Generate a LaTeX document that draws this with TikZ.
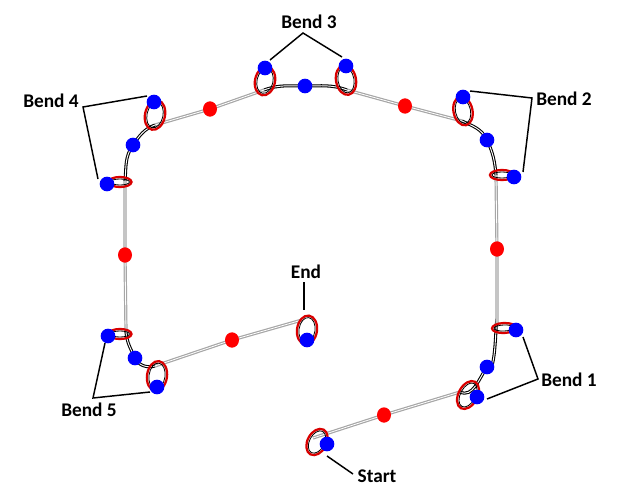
\documentclass[tikz,border=0pt]{standalone}
\usepackage{fontspec}
\setmainfont{Carlito}
\usetikzlibrary{shapes.geometric,backgrounds}
\tikzset{
  x=0.75pt,y=-0.75pt,
  bluedot/.style={circle,fill=blue,draw=none,inner sep=0pt,minimum size=11pt},
  reddot/.style={ellipse,fill=red,draw=none,inner sep=0pt,minimum width=10.5pt,minimum height=11.5pt},
  redring/.style={ellipse,draw=red!85!black,line width=1.7pt,inner sep=0pt},
  straightseg/.style={draw=black!35,line width=2.4pt,line cap=butt,postaction={draw=white,line width=0.6pt}},
  curveseg/.style={draw=black,line width=2.3pt,postaction={draw=white,line width=0.7pt}},
  leader/.style={draw=black,line width=1.1pt},
  lab/.style={font=\fontsize{14.5pt}{16pt}\selectfont\bfseries,inner sep=0pt,text=black}
}
\newcommand{\bendloop}[6]{% name, x, y, width, height, rotation
  \node[redring,minimum width=#4*0.75pt,minimum height=#5*0.75pt,rotate=#6] (#1) at (#2,#3) {};
  \node[ellipse,draw=black,line width=0.6pt,inner sep=0pt,minimum width=#4*0.75pt-3pt,minimum height=#5*0.75pt-3pt,rotate=#6] (#1in) at (#2,#3) {};
}
\begin{document}
\begin{tikzpicture}
\useasboundingbox (0,0) rectangle (629,492);
% junctions
\coordinate (j0) at (313,438);
\coordinate (j1) at (460,392);
\coordinate (j2) at (497,325);
\coordinate (j3) at (496,175);
\coordinate (j4) at (462,121);
\coordinate (j5) at (347,90);
\coordinate (j6) at (264,90);
\coordinate (j7) at (155,125);
\coordinate (j8) at (125,181);
\coordinate (j9) at (126,332);
\coordinate (j10) at (155,366);
\coordinate (j11) at (302,320);
% rings
\bendloop{ls}{317}{442}{19}{28}{-28}
\bendloop{l1a}{468}{395}{19}{30}{-28}
\bendloop{l1b}{504}{328}{10}{24}{92}
\bendloop{l2b}{502}{175}{10}{24}{-90}
\bendloop{l2a}{463}{111}{19}{29}{12}
\bendloop{l3r}{346}{80}{20}{30}{10}
\bendloop{l3l}{265}{81}{20}{29}{-12}
\bendloop{l4a}{155}{115}{20}{30}{-12}
\bendloop{l4b}{120}{182}{10}{23}{90}
\bendloop{l5a}{120}{334}{10}{23}{90}
\bendloop{l5b}{157}{376}{20}{30}{-8}
\bendloop{le}{307}{330}{20}{29}{-8}
% red midpoints
\node[reddot] (r1) at (384,415) {};
\node[reddot] (r2) at (497,249) {};
\node[reddot] (r3) at (405,106) {};
\node[reddot] (r4) at (210,109) {};
\node[reddot] (r5) at (125,255) {};
\node[reddot] (r6) at (232,340) {};
% blue dots
\node[bluedot] (bs) at (327,444) {};
\node[bluedot] (b1a) at (477,397) {};
\node[bluedot] (m1) at (487,367) {};
\node[bluedot] (b1b) at (516,330) {};
\node[bluedot] (b2b) at (514,177) {};
\node[bluedot] (m2) at (487,140) {};
\node[bluedot] (b2a) at (463,97) {};
\node[bluedot] (b3r) at (346,66) {};
\node[bluedot] (m3) at (305,86) {};
\node[bluedot] (b3l) at (265,68) {};
\node[bluedot] (b4a) at (154,102) {};
\node[bluedot] (m4) at (133,145) {};
\node[bluedot] (b4b) at (107,184) {};
\node[bluedot] (b5a) at (108,336) {};
\node[bluedot] (m5) at (135,358) {};
\node[bluedot] (b5b) at (157,387) {};
\node[bluedot] (be) at (307,340) {};
% labels
\node[lab] (tstart) at (377,476) {Start};
\node[lab] (t1) at (569,380) {Bend 1};
\node[lab] (t2) at (564,99) {Bend 2};
\node[lab] (t3) at (309,22) {Bend 3};
\node[lab] (t4) at (51,101) {Bend 4};
\node[lab] (t5) at (89,410) {Bend 5};
\node[lab] (tend) at (306,272) {End};
% leader elbows and free ends
\coordinate (e1) at (538,379);
\coordinate (e2) at (532,98);
\coordinate (e3) at (303,33);
\coordinate (e4) at (83,107);
\coordinate (e5) at (93,398);
\coordinate (as) at (327,456);
\coordinate (asb) at (353,474);
\coordinate (a1b) at (523,337);
\coordinate (a1a) at (487,399);
\coordinate (a2a) at (470,91);
\coordinate (a2b) at (523,172);
\coordinate (a3l) at (270,60);
\coordinate (a3r) at (342,57);
\coordinate (a4a) at (147,96);
\coordinate (a4b) at (98,179);
\coordinate (a5a) at (105,343);
\coordinate (a5b) at (150,392);
\coordinate (aet) at (304,282);
\coordinate (aeb) at (304,310);
\begin{pgfonlayer}{background}
  \draw[straightseg] (j0) -- (r1.center) -- (j1);
  \draw[curveseg] (j1) to[out=-25,in=-125] (m1.center) to[out=-55,in=95] (j2);
  \draw[straightseg] (j2) -- (r2.center) -- (j3);
  \draw[curveseg] (j3) to[out=95,in=-65] (m2.center) to[out=115,in=-25] (j4);
  \draw[straightseg] (j4) -- (r3.center) -- (j5);
  \draw[curveseg] (j5) to[out=160,in=0] (m3.center) to[out=180,in=20] (j6);
  \draw[straightseg] (j6) -- (r4.center) -- (j7);
  \draw[curveseg] (j7) to[out=200,in=55] (m4.center) to[out=-125,in=85] (j8);
  \draw[straightseg] (j8) -- (r5.center) -- (j9);
  \draw[curveseg] (j9) to[out=-85,in=115] (m5.center) to[out=-65,in=195] (j10);
  \draw[straightseg] (j10) -- (r6.center) -- (j11);
\end{pgfonlayer}
% leaders
\draw[leader] (as) -- (asb);
\draw[leader] (a1b) -- (e1) -- (a1a);
\draw[leader] (a2a) -- (e2) -- (a2b);
\draw[leader] (a3l) -- (e3) -- (a3r);
\draw[leader] (a4a) -- (e4) -- (a4b);
\draw[leader] (a5a) -- (e5) -- (a5b);
\draw[leader] (aet) -- (aeb);
\end{tikzpicture}
\end{document}
